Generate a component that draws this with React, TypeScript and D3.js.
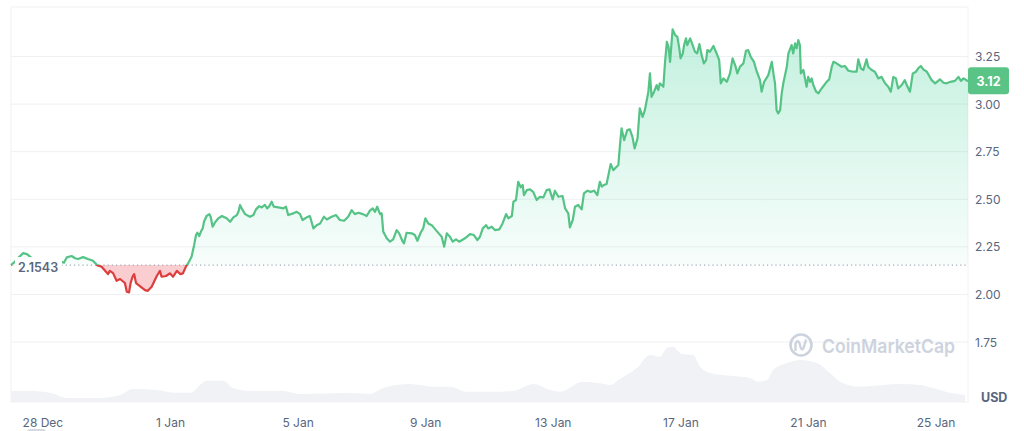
import React from 'react';
import * as d3 from 'd3';

// ---- data ----
const START = new Date(2023, 11, 27, 0, 0, 0);
const END = new Date(2024, 0, 26, 0, 0, 0);

// day offsets from START, and prices (USD)
const dayOffsets = [
  0, 0.09, 0.22, 0.38, 0.5, 0.69, 1.07, 1.38, 1.66, 1.75, 1.9, 2.01, 2.1, 2.26, 2.41, 2.57, 2.7, 2.84, 2.95, 3.04,
  3.1, 3.2, 3.31, 3.42, 3.57, 3.63, 3.7, 3.75, 3.81, 3.86, 3.92, 4.04, 4.2, 4.29, 4.41, 4.57, 4.67, 4.72, 4.86, 4.98,
  5.08, 5.2, 5.3, 5.39, 5.49, 5.55, 5.66, 5.74, 5.8, 5.84, 5.9, 5.95, 6.01, 6.05, 6.13, 6.22, 6.26, 6.32, 6.39, 6.5,
  6.61, 6.76, 6.87, 6.97, 7.08, 7.13, 7.18, 7.23, 7.34, 7.49, 7.6, 7.68, 7.78, 7.86, 7.96, 8.03, 8.1, 8.17, 8.24, 8.38,
  8.54, 8.62, 8.69, 8.85, 8.96, 9.06, 9.14, 9.27, 9.37, 9.48, 9.58, 9.69, 9.81, 9.9, 10.05, 10.19, 10.31, 10.44, 10.57, 10.68,
  10.78, 10.89, 11.03, 11.15, 11.25, 11.34, 11.41, 11.48, 11.57, 11.62, 11.67, 11.78, 11.88, 11.98, 12.09, 12.17, 12.28, 12.32, 12.4, 12.56,
  12.66, 12.74, 12.84, 12.92, 12.99, 13.08, 13.19, 13.32, 13.43, 13.5, 13.58, 13.66, 13.76, 13.85, 13.95, 14.05, 14.23, 14.39, 14.51, 14.62,
  14.7, 14.79, 14.89, 14.96, 15.07, 15.17, 15.31, 15.41, 15.52, 15.59, 15.7, 15.75, 15.83, 15.9, 15.98, 16.04, 16.08, 16.17, 16.27, 16.37,
  16.48, 16.58, 16.69, 16.79, 16.88, 16.98, 17.05, 17.16, 17.29, 17.37, 17.47, 17.52, 17.61, 17.68, 17.78, 17.89, 17.96, 18.07, 18.17, 18.28,
  18.38, 18.46, 18.52, 18.59, 18.67, 18.76, 18.8, 18.88, 18.97, 19.04, 19.09, 19.14, 19.22, 19.32, 19.4, 19.48, 19.55, 19.64, 19.71, 19.8,
  19.87, 19.98, 20.03, 20.08, 20.16, 20.24, 20.29, 20.34, 20.45, 20.5, 20.56, 20.61, 20.66, 20.74, 20.82, 20.89, 20.95, 20.99, 21.06, 21.1,
  21.16, 21.2, 21.29, 21.37, 21.44, 21.51, 21.58, 21.65, 21.72, 21.79, 21.83, 21.91, 22.02, 22.12, 22.2, 22.25, 22.33, 22.44, 22.54, 22.62,
  22.7, 22.77, 22.85, 22.96, 23.04, 23.11, 23.19, 23.29, 23.38, 23.48, 23.53, 23.61, 23.74, 23.85, 23.9, 23.95, 24.0, 24.05, 24.11, 24.16,
  24.21, 24.32, 24.37, 24.47, 24.52, 24.58, 24.63, 24.68, 24.73, 24.76, 24.84, 24.89, 24.94, 24.99, 25.05, 25.1, 25.15, 25.24, 25.31, 25.41,
  25.57, 25.65, 25.73, 25.78, 25.88, 26.04, 26.14, 26.25, 26.4, 26.51, 26.56, 26.64, 26.72, 26.82, 26.87, 26.98, 27.08, 27.19, 27.29, 27.4,
  27.5, 27.58, 27.66, 27.74, 27.81, 27.92, 28.02, 28.08, 28.18, 28.27, 28.37, 28.44, 28.52, 28.6, 28.71, 28.86, 28.97, 29.12, 29.23, 29.33,
  29.45, 29.59, 29.7, 29.78, 29.86, 30.0,
];
const prices = [
  2.1543, 2.167, 2.191, 2.217, 2.212, 2.186, 2.175, 2.186, 2.167, 2.195, 2.202, 2.19, 2.186, 2.196, 2.186, 2.177, 2.154, 2.145, 2.124, 2.107,
  2.124, 2.112, 2.072, 2.081, 2.06, 2.014, 2.011, 2.06, 2.093, 2.107, 2.06, 2.044, 2.023, 2.019, 2.04, 2.097, 2.124, 2.093, 2.097, 2.111,
  2.093, 2.124, 2.107, 2.111, 2.149, 2.163, 2.198, 2.259, 2.312, 2.324, 2.307, 2.329, 2.347, 2.382, 2.412, 2.422, 2.408, 2.356, 2.377, 2.4,
  2.412, 2.4, 2.382, 2.405, 2.417, 2.434, 2.47, 2.452, 2.422, 2.408, 2.417, 2.447, 2.464, 2.457, 2.47, 2.452, 2.464, 2.487, 2.461, 2.457,
  2.452, 2.461, 2.417, 2.426, 2.434, 2.422, 2.391, 2.405, 2.412, 2.347, 2.364, 2.373, 2.408, 2.394, 2.408, 2.417, 2.391, 2.387, 2.408, 2.443,
  2.422, 2.429, 2.422, 2.412, 2.44, 2.452, 2.434, 2.461, 2.422, 2.426, 2.329, 2.295, 2.277, 2.289, 2.338, 2.321, 2.277, 2.268, 2.324, 2.321,
  2.312, 2.282, 2.324, 2.347, 2.4, 2.373, 2.364, 2.338, 2.317, 2.303, 2.251, 2.321, 2.303, 2.277, 2.289, 2.277, 2.295, 2.317, 2.312, 2.286,
  2.303, 2.347, 2.364, 2.347, 2.356, 2.338, 2.342, 2.373, 2.422, 2.4, 2.412, 2.487, 2.496, 2.592, 2.563, 2.575, 2.522, 2.548, 2.552, 2.539,
  2.496, 2.513, 2.51, 2.548, 2.552, 2.499, 2.545, 2.513, 2.517, 2.452, 2.426, 2.352, 2.391, 2.461, 2.47, 2.447, 2.531, 2.545, 2.539, 2.545,
  2.522, 2.592, 2.566, 2.575, 2.58, 2.653, 2.685, 2.653, 2.668, 2.68, 2.785, 2.872, 2.811, 2.863, 2.867, 2.828, 2.767, 2.82, 2.977, 2.933,
  2.968, 3.065, 3.161, 3.038, 3.065, 3.1, 3.074, 3.109, 3.091, 3.214, 3.327, 3.301, 3.222, 3.392, 3.362, 3.353, 3.293, 3.24, 3.266, 3.31,
  3.345, 3.31, 3.345, 3.31, 3.275, 3.266, 3.315, 3.257, 3.214, 3.231, 3.284, 3.275, 3.305, 3.266, 3.231, 3.109, 3.135, 3.117, 3.161, 3.24,
  3.205, 3.161, 3.196, 3.214, 3.28, 3.284, 3.248, 3.222, 3.17, 3.126, 3.065, 3.117, 3.152, 3.222, 3.161, 3.109, 2.968, 2.951, 2.968, 3.056,
  3.109, 3.196, 3.266, 3.31, 3.266, 3.319, 3.293, 3.336, 3.31, 3.161, 3.179, 3.135, 3.091, 3.143, 3.117, 3.135, 3.1, 3.065, 3.056, 3.082,
  3.117, 3.13, 3.196, 3.222, 3.214, 3.196, 3.2, 3.175, 3.17, 3.17, 3.235, 3.188, 3.179, 3.235, 3.196, 3.179, 3.17, 3.135, 3.143, 3.109,
  3.091, 3.065, 3.143, 3.135, 3.082, 3.1, 3.126, 3.1, 3.065, 3.161, 3.17, 3.188, 3.2, 3.182, 3.17, 3.126, 3.109, 3.13, 3.112, 3.109,
  3.117, 3.122, 3.143, 3.122, 3.135, 3.12,
];

// volume (USD millions)
const volDayOffsets = [
  0, 0.6, 1.22, 1.76, 2.79, 3.42, 3.82, 4.58, 5.08, 5.61, 6.14, 6.65, 6.96, 7.49, 8.53, 9.06, 10.63, 11.25, 11.66, 12.51,
  13.23, 13.76, 14.29, 15.33, 15.74, 16.39, 16.9, 17.21, 17.93, 18.46, 18.78, 19.09, 19.62, 20.03, 20.34, 20.56, 20.75, 21.03, 21.38, 21.6,
  21.91, 22.63, 23.17, 23.39, 23.7, 23.89, 24.33, 24.73, 25.27, 25.67, 25.99, 26.61, 27.34, 27.87, 28.5, 28.9, 29.44, 29.91,
];
const volumes = [
  110, 110, 93, 40, 40, 70, 130, 120, 93, 93, 213, 213, 140, 110, 110, 80, 90, 80, 140, 180,
  153, 153, 103, 103, 110, 180, 120, 103, 203, 187, 170, 230, 340, 470, 453, 540, 553, 480, 470, 353,
  290, 260, 240, 203, 220, 320, 390, 420, 390, 290, 203, 153, 170, 180, 170, 140, 93, 70,
];

const yTicks = [1.75, 2.0, 2.25, 2.5, 2.75, 3.0, 3.25];
const xTickDates = [
  new Date(2023, 11, 28), new Date(2024, 0, 1), new Date(2024, 0, 5), new Date(2024, 0, 9),
  new Date(2024, 0, 13), new Date(2024, 0, 17), new Date(2024, 0, 21), new Date(2024, 0, 25),
];
const baselinePrice = 2.1543;
const lastPrice = 3.12;
const currency = 'USD';
const watermark = 'CoinMarketCap';

const GREEN = '#16c784';
const LINE_GREEN = '#55c386';
const RED = '#dc3e3e';
const AXIS_TEXT = '#58667e';
const FONT = 'Inter, "Noto Sans", sans-serif';

export default function App() {
  const W = 1024;
  const H = 431;
  const left = 11;
  const right = 968;
  const top = 7;
  const bottom = 402;

  const x = d3.scaleTime().domain([START, END]).range([left, right]);
  const y = d3.scaleLinear().domain([1.435, 3.51]).range([bottom, top]);
  const yv = d3.scaleLinear().domain([0, 600]).range([bottom, bottom - 60]);

  const data = dayOffsets.map((d, i) => ({ date: new Date(START.getTime() + d * 864e5), v: prices[i] }));
  const vdata = volDayOffsets.map((d, i) => ({ date: new Date(START.getTime() + d * 864e5), v: volumes[i] }));

  const yb = y(baselinePrice);

  const line = d3.line<any>().x((d) => x(d.date)).y((d) => y(d.v)).curve(d3.curveLinear);
  const area = d3.area<any>().x((d) => x(d.date)).y0(yb).y1((d) => y(d.v)).curve(d3.curveLinear);
  const volArea = d3
    .area<any>()
    .x((d) => x(d.date))
    .y0(bottom)
    .y1((d) => yv(d.v))
    .curve(d3.curveMonotoneX);

  const fmtX = d3.timeFormat('%-d %b');
  const fmtY = d3.format('.2f');
  const yTop = y(d3.max(prices) as number);

  return (
    <svg
      width={W}
      height={H}
      style={{ position: 'absolute', left: 0, top: 0, background: '#fff', fontFamily: FONT }}
    >
      <defs>
        <clipPath id="above">
          <rect x={0} y={0} width={W} height={yb} />
        </clipPath>
        <clipPath id="below">
          <rect x={0} y={yb} width={W} height={H - yb} />
        </clipPath>
        <linearGradient id="gfill" gradientUnits="userSpaceOnUse" x1={0} x2={0} y1={yTop} y2={yb}>
          <stop offset="0" stopColor={GREEN} stopOpacity={0.26} />
          <stop offset="1" stopColor={GREEN} stopOpacity={0.03} />
        </linearGradient>
      </defs>

      {/* frame */}
      <rect x={left} y={top} width={right - left} height={bottom - top} fill="none" stroke="#f1f2f4" strokeWidth={1} />

      {/* grid */}
      {yTicks.map((t) => (
        <line key={t} x1={left} x2={right} y1={y(t)} y2={y(t)} stroke="#eff0f3" strokeWidth={1} />
      ))}

      {/* volume */}
      <path d={volArea(vdata) || ''} fill="#f0f2f5" />

      {/* watermark */}
      <g>
        <circle cx={801} cy={345} r={10.5} fill="none" stroke="#cdd3de" strokeWidth={2.6} />
        <path
          d="M795.5 350 L795.5 344 Q797.5 338.5 799.6 343.5 L800.8 348 Q802.8 352 804.6 344.5 L805.8 340.5"
          fill="none"
          stroke="#cdd3de"
          strokeWidth={2.4}
          strokeLinecap="round"
          strokeLinejoin="round"
        />
        <text x={822} y={346} dominantBaseline="central" fontSize={19} fontWeight={600} fill="#cdd3de" textLength={133} lengthAdjust="spacingAndGlyphs">
          {watermark}
        </text>
      </g>

      {/* fills */}
      <path d={area(data) || ''} fill="url(#gfill)" clipPath="url(#above)" />
      <path d={area(data) || ''} fill="rgba(234,57,67,0.25)" clipPath="url(#below)" />

      {/* baseline */}
      <line x1={left} x2={right} y1={yb} y2={yb} stroke="#a3aab8" strokeWidth={1.2} strokeDasharray="1.2 3" />

      {/* price line */}
      <path d={line(data) || ''} fill="none" stroke={LINE_GREEN} strokeWidth={2.2} strokeLinejoin="round" clipPath="url(#above)" />
      <path d={line(data) || ''} fill="none" stroke={RED} strokeWidth={2.2} strokeLinejoin="round" clipPath="url(#below)" />

      {/* baseline label */}
      <rect x={15} y={yb - 8} width={47} height={18} fill="#fff" />
      <text x={18} y={yb + 2} dominantBaseline="central" fontSize={12.5} fontWeight={600} fill={AXIS_TEXT}>
        {baselinePrice.toString()}
      </text>

      {/* y axis labels */}
      {yTicks.map((t) => (
        <text key={t} x={975} y={y(t)} dominantBaseline="central" fontSize={12} fill={AXIS_TEXT}>
          {fmtY(t)}
        </text>
      ))}
      <text x={981} y={397} dominantBaseline="central" fontSize={12.5} fontWeight={700} fill={AXIS_TEXT}>
        {currency}
      </text>

      {/* last price tag */}
      <rect x={968} y={y(lastPrice) - 14} width={41} height={27} rx={3} fill="#5ac487" />
      <text x={988.5} y={y(lastPrice)} textAnchor="middle" dominantBaseline="central" fontSize={12.5} fontWeight={700} fill="#fff">
        {fmtY(lastPrice)}
      </text>

      {/* x axis labels */}
      {xTickDates.map((d) => (
        <text key={d.getTime()} x={x(d)} y={422} textAnchor="middle" dominantBaseline="central" fontSize={12} fill={AXIS_TEXT}>
          {fmtX(d)}
        </text>
      ))}

      {/* scrollbar hint */}
      <rect x={27} y={429} width={19} height={6} rx={3} fill="#d4d9e2" />
    </svg>
  );
}
